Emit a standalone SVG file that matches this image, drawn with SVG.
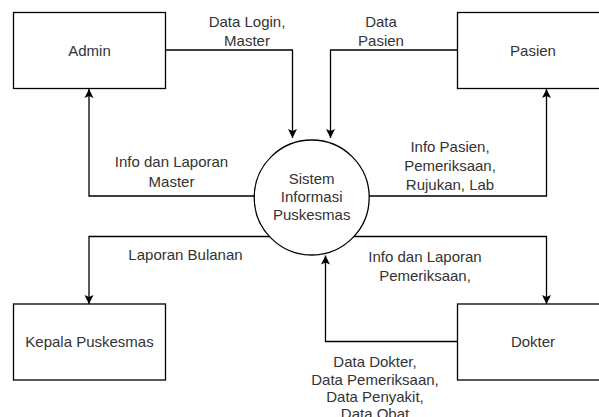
<svg xmlns="http://www.w3.org/2000/svg" width="599" height="417" viewBox="0 0 599 417">
<style>
.box{fill:#fff;stroke:#000;stroke-width:1.3}
.edge{fill:none;stroke:#000;stroke-width:1.3;marker-end:url(#arr)}
text{font-family:"Liberation Sans",Arial,sans-serif;font-size:15px;fill:#333;text-anchor:middle}
</style>
<defs>
<marker id="arr" markerUnits="userSpaceOnUse" markerWidth="12" markerHeight="12" viewBox="0 0 12 12" refX="10" refY="6" orient="auto">
<path d="M1,1.5 L10,6 L1,10.5 L3,6 Z" fill="#000"/>
</marker>
</defs>
<rect width="599" height="417" fill="#fff"/>
<g id="connectors">
<path class="edge" d="M166,50 H292.5 V138"/>
<path class="edge" d="M457,50 H330.5 V138"/>
<path class="edge" d="M255,196 H89 V89"/>
<path class="edge" d="M369,196 H546.5 V89"/>
<path class="edge" d="M270,236.5 H89 V304"/>
<path class="edge" d="M354,236.5 H546.5 V304"/>
<path class="edge" d="M457,341.5 H325.5 V255.5"/>
<text x="247" y="27">Data Login,</text>
<text x="247" y="46">Master</text>
<text x="381" y="27">Data</text>
<text x="381" y="46">Pasien</text>
<text x="171.5" y="167">Info dan Laporan</text>
<text x="171.5" y="187">Master</text>
<text x="450" y="152">Info Pasien,</text>
<text x="450" y="171">Pemeriksaan,</text>
<text x="450" y="190">Rujukan, Lab</text>
<text x="185.5" y="260">Laporan Bulanan</text>
<text x="425" y="262">Info dan Laporan</text>
<text x="425" y="280.5">Pemeriksaan,</text>
<text x="375" y="367">Data Dokter,</text>
<text x="375" y="384.5">Data Pemeriksaan,</text>
<text x="375" y="402">Data Penyakit,</text>
<text x="375" y="419">Data Obat</text>
</g>
<g id="admin">
<rect class="box" x="13.5" y="12.5" width="152" height="76"/>
<text x="89.5" y="55.5">Admin</text>
</g>
<g id="pasien">
<rect class="box" x="457.5" y="12.5" width="152" height="76"/>
<text x="533" y="55.5">Pasien</text>
</g>
<g id="kepala">
<rect class="box" x="13.5" y="304" width="152" height="76"/>
<text x="89.5" y="347">Kepala Puskesmas</text>
</g>
<g id="dokter">
<rect class="box" x="457.5" y="304" width="152" height="76"/>
<text x="533" y="347">Dokter</text>
</g>
<g id="sistem">
<circle cx="311.7" cy="197.5" r="57.5" fill="#fff" stroke="#000" stroke-width="1.3"/>
<text x="311.7" y="183.5">Sistem</text>
<text x="311.7" y="201.5">Informasi</text>
<text x="311.7" y="219.5">Puskesmas</text>
</g>
</svg>
